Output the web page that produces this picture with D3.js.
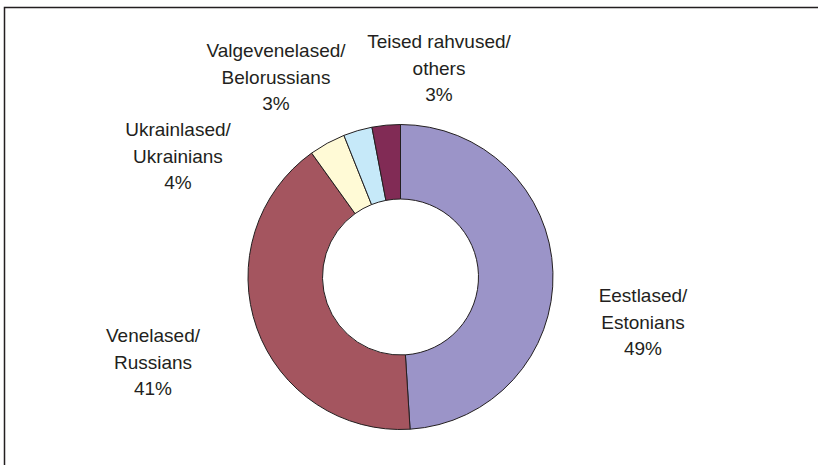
<!DOCTYPE html>
<html>
<head>
<meta charset="utf-8">
<script src="https://cdn.jsdelivr.net/npm/d3@7"></script>
<style>
  body { margin: 0; background: #fff; }
  svg { display: block; }
  .lbl { font-family: "Liberation Sans", Arial, sans-serif; font-size: 19px; fill: #231f20; }
</style>
</head>
<body>
<script>
// share of each nationality, %
var categories = ["Eestlased/Estonians", "Venelased/Russians", "Ukrainlased/Ukrainians", "Valgevenelased/Belorussians", "Teised rahvused/others"];
var values = [49.0, 41.1, 3.85, 3.05, 3.0];
var labelLines = [
	["Eestlased/", "Estonians", "49%"],
	["Venelased/", "Russians", "41%"],
	["Ukrainlased/", "Ukrainians", "4%"],
	["Valgevenelased/", "Belorussians", "3%"],
	["Teised rahvused/", "others", "3%"]
];
var colors = ["#9b94c8", "#a4555f", "#fffad6", "#c6e9f9", "#812b55"];

var width = 818, height = 465;
var cx = 400.5, cy = 277, rOuter = 152.5, rInner = 78;

// label anchor (centre x, first baseline y)
var labelPos = [[643, 302], [153, 342], [178, 136], [276, 57], [439, 48]];

var svg = d3.select("body").append("svg")
	.attr("width", width)
	.attr("height", height);

// frame
svg.append("rect")
	.attr("x", 4.5).attr("y", 7.5)
	.attr("width", 840).attr("height", 480)
	.style("fill", "none")
	.style("stroke", "#231f20")
	.style("stroke-width", 1.5);

var pie = d3.pie().sort(null).value(function(d) { return d; });
var arc = d3.arc().innerRadius(rInner).outerRadius(rOuter);

var g = svg.append("g")
	.attr("transform", "translate(" + cx + "," + cy + ")");

g.selectAll("path")
	.data(pie(values))
	.enter().append("path")
	.attr("d", arc)
	.style("fill", function(d, i) { return colors[i]; })
	.style("stroke", "#231f20")
	.style("stroke-width", 1);

labelLines.forEach(function(lines, i) {
	var t = svg.append("text")
		.attr("class", "lbl")
		.attr("text-anchor", "middle")
		.attr("x", labelPos[i][0])
		.attr("y", labelPos[i][1]);
	lines.forEach(function(s, j) {
		t.append("tspan")
			.attr("x", labelPos[i][0])
			.attr("dy", j == 0 ? 0 : 26.5)
			.text(s);
	});
});
</script>
</body>
</html>
